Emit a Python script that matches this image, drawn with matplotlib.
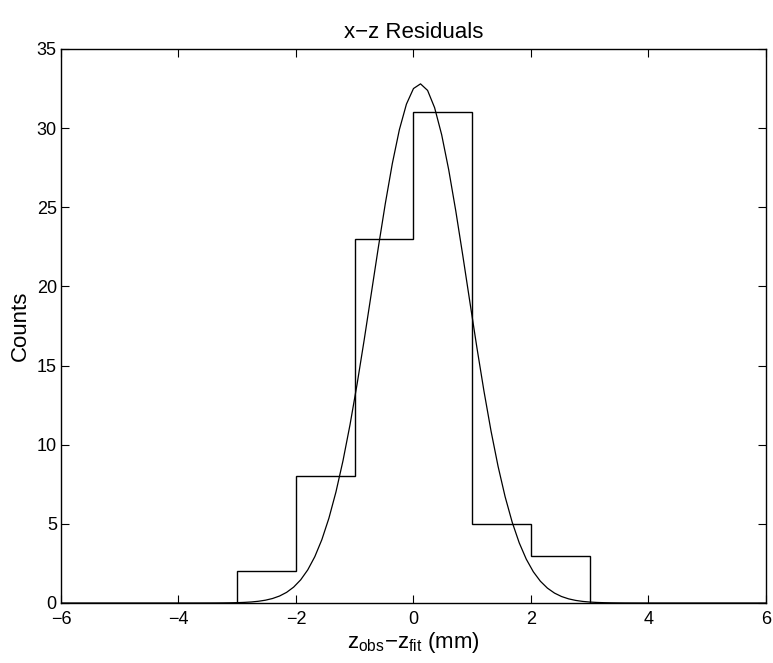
import numpy as np
import matplotlib
matplotlib.use('Agg')
import matplotlib.pyplot as plt

plt.rcParams['font.family'] = ['Liberation Sans', 'DejaVu Sans']
plt.rcParams['mathtext.fontset'] = 'custom'
plt.rcParams['mathtext.rm'] = 'Liberation Sans'
plt.rcParams['mathtext.it'] = 'Liberation Sans'

# histogram of residuals
bin_edges = [-3, -2, -1, 0, 1, 2, 3]
counts = [2, 8, 23, 31, 5, 3]

# gaussian fit parameters
fit_amp = 32.8
fit_mu = 0.11
fit_sigma = 0.814

fig = plt.figure(figsize=(7.73, 6.63), dpi=100)
ax = fig.add_axes([0.0789, 0.0905, 0.912, 0.8356])

ax.stairs(counts, bin_edges, color='black', linewidth=1.0, baseline=0)

xf = np.linspace(-6, 6, 101)
yf = fit_amp * np.exp(-(xf - fit_mu) ** 2 / (2 * fit_sigma ** 2))
ax.plot(xf, yf, color='black', linewidth=0.9)

ax.set_xlim(-6, 6)
ax.set_ylim(0, 35)
ax.set_xticks(range(-6, 7, 2))
ax.set_yticks(range(0, 36, 5))
ax.set_xticklabels(['\u22126', '\u22124', '\u22122', '0', '2', '4', '6'])
ax.tick_params(direction='in', top=True, right=True, labelsize=13, length=6, pad=3)
ax.tick_params(axis='x', pad=6)
for s in ax.spines.values():
    s.set_linewidth(1.0)

ax.set_title('x\u2212z Residuals', fontsize=16, pad=8)
ax.set_xlabel(r'$\mathregular{z_{obs}}$' + '\u2212' + r'$\mathregular{z_{fit}}$ (mm)', fontsize=16, labelpad=1)
ax.set_ylabel('Counts', fontsize=16, labelpad=4)

fig.savefig('out.png', dpi=100)
